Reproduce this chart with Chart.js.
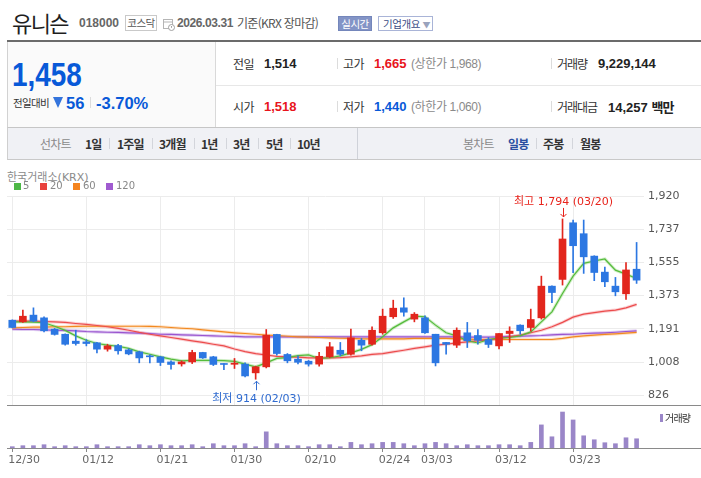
<!DOCTYPE html>
<html lang="ko">
<head>
<meta charset="utf-8">
<title>유니슨 018000 일봉</title>
<script src="https://cdn.jsdelivr.net/npm/chart.js@4.4.1/dist/chart.umd.min.js"></script>
<style>
* { box-sizing: border-box; }
body { margin: 0; width: 701px; height: 478px; overflow: hidden; position: relative; background: #fff;
       font-family: "Liberation Sans", "Noto Sans CJK KR", sans-serif; color: #333; }
.a { position: absolute; white-space: nowrap; }
.k { font-family: "Noto Sans CJK KR", sans-serif; }
.d { font-family: "DejaVu Sans", "Noto Sans CJK KR", sans-serif; }
.lbl { font-size: 12px; line-height: 16px; letter-spacing: -0.6px; color: #333; }
.val { font-weight: bold; font-size: 13px; line-height: 16px; color: #222; }
.sub { font-size: 12px; line-height: 16px; color: #8a8a8a; letter-spacing: -0.4px; }
.sep { position: absolute; width: 1px; height: 11px; background: #dcdcdc; }
.tab { font-size: 12px; line-height: 16px; letter-spacing: -0.8px; font-weight: bold; color: #333; }
.tabg { font-size: 12px; line-height: 16px; letter-spacing: -0.8px; color: #8a8a8a; }
.tsep { position: absolute; top: 138px; width: 1px; height: 11px; background: #d3d5db; }
.sq { position: absolute; top: 183px; width: 7px; height: 7px; }
.lg { font-size: 10px; line-height: 12px; color: #888; top: 180px; }
canvas { position: absolute; left: 0; }
</style>
</head>
<body>

<!-- title row -->
<div class="a k" style="left:12px;top:6px;font-size:22px;line-height:32px;letter-spacing:-1.6px;color:#1e1e1e">유니슨</div>
<div class="a" style="left:79px;top:16px;font-weight:bold;font-size:12px;line-height:14px;color:#666">018000</div>
<div class="a k" style="left:125px;top:15px;width:32px;height:16px;border:1px solid #c9c9c9;font-size:10.5px;line-height:14px;text-align:center;color:#555;letter-spacing:-0.5px">코스닥</div>
<svg class="a" style="left:163px;top:18px" width="12" height="13" viewBox="0 0 12 13">
  <rect x="0.5" y="1.5" width="9" height="9" fill="#fff" stroke="#b5b5b5"/>
  <line x1="0.5" y1="4" x2="9.5" y2="4" stroke="#b5b5b5"/>
  <circle cx="8.5" cy="9.5" r="3" fill="#fff" stroke="#a0a0a0"/>
  <line x1="8.5" y1="8" x2="8.5" y2="9.8" stroke="#a0a0a0"/>
</svg>
<div class="a" style="left:177px;top:16px;font-weight:bold;font-size:12px;line-height:14px;color:#666;letter-spacing:-0.4px">2026.03.31</div>
<div class="a k" style="left:237px;top:15px;font-size:12px;line-height:16px;color:#555;letter-spacing:-0.7px">기준(KRX 장마감)</div>
<div class="a k" style="left:338px;top:16px;width:34px;height:15px;background:#8394c6;border:1px solid #7486bb;color:#fff;font-size:10.5px;line-height:13px;text-align:center;letter-spacing:-0.5px">실시간</div>
<div class="a k" style="left:378px;top:16px;width:55px;height:15px;border:1px solid #a9b4d7;color:#3c4d86;font-size:10.5px;line-height:13px;padding-left:4px;letter-spacing:-0.4px">기업개요 <span style="color:#9aa3bd;font-size:8px">▼</span></div>

<!-- price summary box -->
<div class="a" style="left:7px;top:40px;width:694px;height:2px;background:#6b6b6b"></div>
<div class="a" style="left:7px;top:42px;width:694px;height:86px;border-left:1px solid #d2d2d2;border-bottom:1px solid #c6c6c6"></div>
<div class="a" style="left:7px;top:42px;width:209px;height:85px;background:#fafafa;border-left:1px solid #d2d2d2;border-right:1px solid #d9d9d9"></div>
<div class="a" style="left:216px;top:85px;width:485px;height:1px;background:#e7e7e7"></div>

<div class="a" style="left:12px;top:57px;font-weight:bold;font-size:33px;line-height:36px;color:#0859d8;transform:scaleX(0.845);transform-origin:0 0">1,458</div>
<div class="a k" style="left:13px;top:96px;font-size:10.5px;line-height:14px;letter-spacing:-0.7px;color:#333">전일대비</div>
<div class="a" style="left:53px;top:97px;width:0;height:0;border-left:5px solid transparent;border-right:5px solid transparent;border-top:11px solid #3474dc"></div>
<div class="a" style="left:66px;top:93px;font-weight:bold;font-size:16.5px;line-height:20px;color:#0859d8">56</div>
<div class="sep" style="left:90px;top:97px"></div>
<div class="a" style="left:96px;top:93px;font-weight:bold;font-size:16.5px;line-height:20px;color:#0859d8">-3.70%</div>

<div class="a k lbl" style="left:233px;top:56px">전일</div>
<div class="a val" style="left:264px;top:56px">1,514</div>
<div class="sep" style="left:337px;top:58px"></div>
<div class="a k lbl" style="left:343px;top:56px">고가</div>
<div class="a val" style="left:374px;top:56px;color:#e8141c">1,665</div>
<div class="a sub" style="left:411px;top:56px">(상한가 1,968)</div>
<div class="sep" style="left:551px;top:58px"></div>
<div class="a k lbl" style="left:557px;top:56px;letter-spacing:-1px">거래량</div>
<div class="a val" style="left:598px;top:56px">9,229,144</div>

<div class="a k lbl" style="left:233px;top:99px">시가</div>
<div class="a val" style="left:264px;top:99px;color:#e8141c">1,518</div>
<div class="sep" style="left:337px;top:101px"></div>
<div class="a k lbl" style="left:343px;top:99px">저가</div>
<div class="a val" style="left:374px;top:99px;color:#0859d8">1,440</div>
<div class="a sub" style="left:411px;top:99px">(하한가 1,060)</div>
<div class="sep" style="left:551px;top:101px"></div>
<div class="a k lbl" style="left:557px;top:99px;letter-spacing:-1px">거래대금</div>
<div class="a val" style="left:608px;top:99px">14,257 <span class="k" style="letter-spacing:-0.8px">백만</span></div>

<!-- period tabs -->
<div class="a" style="left:7px;top:128px;width:694px;height:32px;background:#f0f1f5;border-left:1px solid #cfcfcf;border-bottom:1px solid #c9c9c9"></div>
<div class="a" style="left:357px;top:128px;width:1px;height:31px;background:#cfd2d9"></div>
<div class="a k tabg" style="left:40px;top:136px">선차트</div>
<div class="a k tab" style="left:85px;top:136px">1일</div>
<div class="tsep" style="left:109px"></div>
<div class="a k tab" style="left:117px;top:136px">1주일</div>
<div class="tsep" style="left:152px"></div>
<div class="a k tab" style="left:159px;top:136px">3개월</div>
<div class="tsep" style="left:194px"></div>
<div class="a k tab" style="left:201px;top:136px">1년</div>
<div class="tsep" style="left:226px"></div>
<div class="a k tab" style="left:233px;top:136px">3년</div>
<div class="tsep" style="left:258px"></div>
<div class="a k tab" style="left:266px;top:136px">5년</div>
<div class="tsep" style="left:290px"></div>
<div class="a k tab" style="left:297px;top:136px">10년</div>
<div class="a k tabg" style="left:463px;top:136px">봉차트</div>
<div class="a k tab" style="left:508px;top:136px;color:#2a4fa1">일봉</div>
<div class="tsep" style="left:536px"></div>
<div class="a k tab" style="left:543px;top:136px">주봉</div>
<div class="tsep" style="left:572px"></div>
<div class="a k tab" style="left:580px;top:136px">월봉</div>

<!-- charts -->
<canvas id="priceChart" width="701" height="220" style="top:186px"></canvas>
<canvas id="volumeChart" width="701" height="72" style="top:406px"></canvas>

<div class="a d" style="left:7px;top:171px;font-size:11px;line-height:13px;color:#8a8a8a">한국거래소(KRX)</div>
<div class="sq" style="left:14px;background:#4db847"></div><div class="a d lg" style="left:23px">5</div>
<div class="sq" style="left:40px;background:#e8413c"></div><div class="a d lg" style="left:50px">20</div>
<div class="sq" style="left:73px;background:#f4841f"></div><div class="a d lg" style="left:83px">60</div>
<div class="sq" style="left:106px;background:#a05bd0"></div><div class="a d lg" style="left:116px">120</div>

<div class="a" style="left:660px;top:414px;width:3px;height:8px;background:#9a86c8"></div>
<div class="a k" style="left:665px;top:411px;font-size:10px;line-height:14px;letter-spacing:-0.8px;color:#333">거래량</div>

<script>
var dates = ['12/30','01/02','01/05','01/06','01/07','01/08','01/09','01/12','01/13','01/14',
             '01/15','01/16','01/19','01/20','01/21','01/22','01/23','01/26','01/27','01/28',
             '01/29','01/30','02/02','02/03','02/04','02/05','02/06','02/09','02/10','02/11',
             '02/12','02/13','02/19','02/20','02/23','02/24','02/25','02/26','02/27','03/03',
             '03/04','03/05','03/06','03/09','03/10','03/11','03/12','03/13','03/16','03/17',
             '03/18','03/19','03/20','03/23','03/24','03/25','03/26','03/27','03/30','03/31'];

var openP  = [1238,1229,1266,1251,1189,1161,1123,1119,1114,1079,
              1099,1075,1064,1042,1037,1009, 998,1009,1061,1037,
              1000, 996, 997, 949, 982,1160,1050,1024,1013, 997,
              1037,1073,1051,1128,1106,1169,1257,1306,1244,1251,
              1161,1116,1101,1169,1154,1132,1097,1165,1211,1198,
              1251,1425,1462,1773,1713,1590,1502,1425,1383,1518];
var highP  = [1240,1293,1306,1257,1193,1163,1183,1132,1117,1106,
              1105,1081,1068,1048,1040,1015,1015,1073,1062,1040,
              1000,1028,1004, 986,1187,1161,1055,1042,1017,1061,
              1116,1116,1189,1138,1202,1299,1348,1361,1280,1262,
              1161,1116,1196,1226,1187,1143,1165,1202,1213,1299,
              1480,1427,1794,1788,1788,1592,1530,1473,1554,1665];
var lowP   = [1196,1226,1229,1174,1156,1101,1101,1097,1059,1068,
              1051,1048,1004,1004, 989, 969, 986,1000,1028, 989,
               967, 973, 927, 914, 976,1046,1004, 998, 986, 986,
              1033,1042,1046,1070,1101,1161,1248,1260,1229,1165,
               987,1051,1088,1088,1107,1088,1081,1116,1161,1178,
              1244,1335,1431,1499,1495,1455,1422,1372,1352,1440];
var closeP = [1198,1260,1233,1180,1160,1106,1110,1110,1079,1097,
              1070,1053,1031,1037,1006, 995,1009,1061,1031, 995,
               995,1002, 932, 982,1156,1055,1015,1007, 997,1040,
              1092,1051,1141,1101,1183,1260,1304,1282,1271,1169,
              1004,1106,1183,1125,1128,1105,1165,1178,1180,1242,
              1425,1390,1684,1647,1586,1500,1449,1394,1514,1458];
var volume = [1320000,2310000,2310000,3300000,1320000,2310000,1320000,1320000,3300000,1320000,
              1320000,1320000,3300000,2310000,3300000,2310000,2310000,3300000,1320000,4290000,
              2310000,2310000,4290000,1320000,16170000,4290000,2310000,2310000,1320000,3300000,
              3300000,1320000,5610000,3300000,4290000,5610000,5610000,4290000,2310000,4290000,
              5610000,4290000,2310000,3300000,2310000,2310000,3300000,3300000,2310000,5610000,
              23100000,11220000,35970000,28050000,12210000,8250000,5280000,4290000,10230000,9229144];

var ma5   = [1229,1229,1227,1224,1205,1182,1152,1128,1110,1101,
             1095,1083,1064,1051,1037,1024,1015,1018,1018,1018,
             1016,1012, 997, 982,1004,1028,1033,1044,1048,1028,
             1032,1042,1059,1078,1104,1147,1196,1229,1260,1257,
             1211,1169,1152,1125,1113,1132,1141,1143,1152,1174,
             1229,1284,1385,1480,1550,1563,1574,1513,1491,1467];
var ma20  = [1233,1233,1233,1231,1229,1226,1220,1215,1209,1202,
             1193,1183,1171,1161,1152,1143,1134,1125,1116,1106,
             1097,1080,1066,1055,1047,1040,1037,1035,1031,1031,
             1031,1033,1037,1042,1050,1055,1064,1073,1083,1092,
             1101,1106,1114,1119,1125,1130,1138,1147,1156,1169,
             1183,1202,1226,1255,1271,1280,1288,1293,1306,1325];
var ma60  = [1196,1198,1200,1200,1202,1202,1204,1205,1205,1205,
             1205,1205,1205,1204,1202,1198,1194,1191,1185,1180,
             1174,1169,1165,1161,1156,1154,1150,1147,1145,1143,
             1141,1139,1138,1136,1136,1136,1136,1136,1138,1138,
             1138,1138,1136,1134,1132,1132,1132,1132,1132,1132,
             1132,1132,1138,1147,1152,1156,1160,1163,1167,1171];
var ma120 = [1189,1187,1187,1185,1183,1182,1180,1176,1174,1172,
             1171,1169,1167,1165,1161,1160,1158,1156,1154,1152,
             1150,1149,1147,1147,1147,1147,1147,1147,1147,1147,
             1147,1147,1147,1147,1147,1147,1147,1147,1147,1147,
             1147,1147,1147,1145,1145,1145,1147,1149,1150,1152,
             1154,1158,1160,1161,1165,1167,1169,1172,1176,1180];

var priceTicks = [826, 1008, 1191, 1373, 1555, 1737, 1920];
var xTickIdx = [0, 7, 14, 21, 28, 35, 39, 46, 53];

var stockChartAPI = (function () {
    var UP = '#e2261d', DOWN = '#2c77e2';
    var FONT = '"DejaVu Sans", "Noto Sans CJK KR", sans-serif';

    Chart.defaults.font.family = FONT;
    Chart.defaults.font.size = 11;
    Chart.defaults.color = '#666';

    function fmt(v) {
        return v.toLocaleString('en-US');
    }

    function points(arr) {
        return arr.map(function (v, i) { return {x: i, y: v}; });
    }

    function maLines(arr, color, halo) {
        return [
            {type: 'line', data: points(arr), borderColor: color, borderWidth: 1.2, pointRadius: 0, tension: 0, order: 3},
            {type: 'line', data: points(arr), borderColor: halo, borderWidth: 3.2, pointRadius: 0, tension: 0, order: 4}
        ];
    }

    function xScale(extra) {
        var s = {
            type: 'linear', min: -0.5, max: 59.7, offset: false,
            afterBuildTicks: function (sc) { sc.ticks = xTickIdx.map(function (v) { return {value: v}; }); },
            border: {display: false}
        };
        for (var k in extra) { s[k] = extra[k]; }
        return s;
    }

    function drawMark(ctx, x, y, dir, color, text, textOff) {
        var tip = y + dir * 2, tail = y + dir * 11;
        x = Math.round(x) + 0.5;
        ctx.save();
        ctx.strokeStyle = color;
        ctx.lineWidth = 1;
        ctx.beginPath();
        ctx.moveTo(x, tail); ctx.lineTo(x, tip);
        ctx.moveTo(x - 3, tip + dir * 3); ctx.lineTo(x, tip); ctx.lineTo(x + 3, tip + dir * 3);
        ctx.stroke();
        ctx.fillStyle = color;
        ctx.font = '11px ' + FONT;
        ctx.textAlign = 'center';
        ctx.textBaseline = 'middle';
        ctx.fillText(text, x, y + dir * textOff);
        ctx.restore();
    }

    function panelLine(ctx, y) {
        ctx.save();
        ctx.strokeStyle = '#8a8a8a';
        ctx.lineWidth = 1;
        ctx.beginPath();
        ctx.moveTo(7, y); ctx.lineTo(701, y);
        ctx.stroke();
        ctx.restore();
    }

    var hiLoPlugin = {
        id: 'hiLo',
        afterDatasetsDraw: function (chart) {
            var xs = chart.scales.x, ys = chart.scales.y, ctx = chart.ctx;
            var hi = highP.indexOf(Math.max.apply(null, highP));
            var lo = lowP.indexOf(Math.min.apply(null, lowP));
            drawMark(ctx, xs.getPixelForValue(hi), ys.getPixelForValue(highP[hi]), -1, '#e8231b',
                     '최고 ' + fmt(highP[hi]) + ' (' + dates[hi] + ')', 17);
            drawMark(ctx, xs.getPixelForValue(lo), ys.getPixelForValue(lowP[lo]), 1, '#2f6bd0',
                     '최저 ' + fmt(lowP[lo]) + ' (' + dates[lo] + ')', 20);
            panelLine(ctx, chart.chartArea.bottom - 0.5);
        }
    };

    var baselinePlugin = {
        id: 'baseline',
        afterDraw: function (chart) {
            panelLine(chart.ctx, chart.chartArea.bottom + 0.5);
        }
    };

    function renderPrice() {
        var colors = closeP.map(function (c, i) { return c >= openP[i] ? UP : DOWN; });
        var datasets = [
            {type: 'bar', data: closeP.map(function (c, i) { return {x: i, y: [openP[i], c]}; }),
             backgroundColor: colors, barThickness: 7, minBarLength: 1, grouped: false, order: 0},
            {type: 'bar', data: lowP.map(function (l, i) { return {x: i, y: [l, highP[i]]}; }),
             backgroundColor: colors, barThickness: 1, grouped: false, order: 1}
        ];
        datasets = datasets
            .concat(maLines(ma5, '#55bb3c', 'rgba(120,205,95,0.35)'))
            .concat(maLines(ma20, '#ec4c4c', 'rgba(240,120,130,0.35)'))
            .concat(maLines(ma60, '#f2891f', 'rgba(248,170,95,0.35)'))
            .concat(maLines(ma120, '#9a55cf', 'rgba(185,140,225,0.45)'));

        new Chart(document.getElementById('priceChart'), {
            type: 'line',
            data: {datasets: datasets},
            options: {
                responsive: false,
                animation: false,
                layout: {padding: {left: 7, right: 0, top: 10, bottom: 0}},
                plugins: {legend: {display: false}, tooltip: {enabled: false}},
                scales: {
                    x: xScale({
                        ticks: {display: false},
                        grid: {color: '#ececec', drawTicks: false, offset: false},
                        afterFit: function (s) { s.height = 0; s.paddingLeft = 0; s.paddingRight = 0; }
                    }),
                    y: {
                        type: 'linear', position: 'right', min: 767, max: 1920,
                        afterBuildTicks: function (s) { s.ticks = priceTicks.map(function (v) { return {value: v}; }); },
                        ticks: {padding: 4, color: '#555', callback: function (v) { return fmt(v); }},
                        grid: {color: '#ececec', drawTicks: false},
                        border: {display: false},
                        afterFit: function (s) { s.width = 57; s.paddingTop = 0; s.paddingBottom = 0; }
                    }
                }
            },
            plugins: [hiLoPlugin]
        });
    }

    function renderVolume() {
        new Chart(document.getElementById('volumeChart'), {
            type: 'bar',
            data: {datasets: [{
                data: points(volume), backgroundColor: '#9a86c8', barThickness: 4
            }]},
            options: {
                responsive: false,
                animation: false,
                layout: {padding: {left: 7, right: 57, top: 0, bottom: 0}},
                plugins: {legend: {display: false}, tooltip: {enabled: false}},
                scales: {
                    x: xScale({
                        ticks: {align: 'start', labelOffset: -4, padding: 2, color: '#666', autoSkip: false, maxRotation: 0,
                                callback: function (v) { return dates[v]; }},
                        grid: {drawOnChartArea: false, drawTicks: true, tickLength: 4, color: '#888', offset: false},
                        afterFit: function (s) { s.height = 30; s.paddingLeft = 0; s.paddingRight = 0; }
                    }),
                    y: {display: false, min: 0, max: 42000000}
                }
            },
            plugins: [baselinePlugin]
        });
    }

    return {
        render: function () {
            renderPrice();
            renderVolume();
        }
    };
})();

stockChartAPI.render();
</script>
</body>
</html>
